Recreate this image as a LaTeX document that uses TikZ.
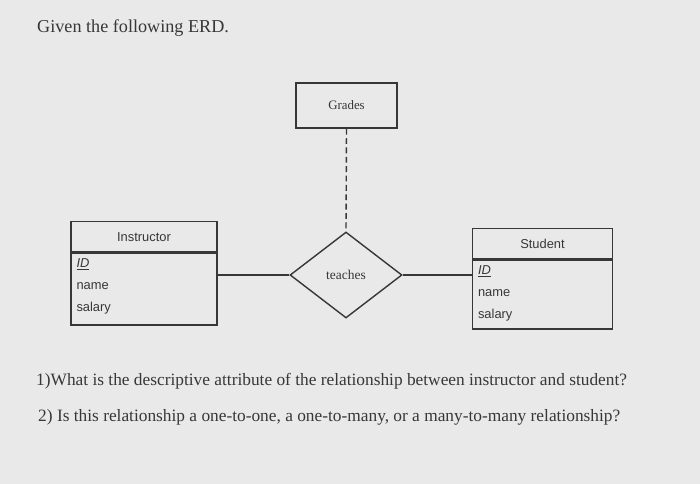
\documentclass[tikz,border=0pt]{standalone}
\usepackage{fontspec}
\setmainfont{Liberation Serif}
\setsansfont{Liberation Sans}
\usetikzlibrary{shapes.geometric}
\definecolor{paper}{RGB}{233,233,233}
\definecolor{ink}{RGB}{55,55,55}
\tikzset{
	box/.style={draw=ink, line width=1.2pt, inner sep=0pt},
	attr/.style={anchor=west, inner sep=0pt, text=ink, font=\sffamily\fontsize{11}{13}\selectfont},
	qline/.style={anchor=base west, inner sep=0pt, text=ink, font=\fontsize{14.8}{17}\selectfont}
}
\begin{document}
\begin{tikzpicture}[x=0.03cm, y=-0.03cm]
	\fill[paper] (0, 0) rectangle (700, 484);
	\node[qline, font=\fontsize{15.5}{18}\selectfont] (title) at (37, 33) {Given the following ERD.};
	% attribute on the relationship
	\node[box, minimum width=3.03cm, minimum height=1.35cm, font=\fontsize{11}{13}\selectfont, text=ink] (grades) at (346.5, 105.5) {Grades};
	\node[box, diamond, minimum width=3.36cm, minimum height=2.58cm, font=\fontsize{11.5}{13}\selectfont, text=ink] (teaches) at (346, 275) {teaches};
	\draw[ink, line width=1.2pt, dash pattern=on 5pt off 3pt] (grades.south) -- (teaches.north);
	% the two entities
	\foreach \e/\t/\x/\y/\w/\h in {instr/Instructor/144/221/4.38cm/2.16cm, stud/Student/542.5/228/4.2cm/2.07cm}{
		\node[box, minimum width=\w, minimum height=0.9cm, attr, anchor=north] (\e-head) at (\x, \y) {\t};
		\node[box, minimum width=\w, minimum height=\h, anchor=north] (\e-body) at (\e-head.south) {};
		\node[attr] (\e-id) at ([xshift=0.18cm, yshift=-0.35cm]\e-body.north west) {\underline{\textit{ID}}};
		\node[attr] (\e-name) at ([xshift=0.18cm, yshift=-1.0cm]\e-body.north west) {name};
		\node[attr] (\e-salary) at ([xshift=0.18cm, yshift=-1.66cm]\e-body.north west) {salary};
	}
	\draw[ink, line width=1.2pt] (instr-body.east |- teaches.west) -- (teaches.west);
	\draw[ink, line width=1.2pt] (teaches.east) -- (stud-body.west |- teaches.east);
	% questions
	\node[qline] (q1) at (36, 385) {1)What is the descriptive attribute of the relationship between instructor and student?};
	\node[qline] (q2) at (38, 421) {2) Is this relationship a one-to-one, a one-to-many, or a many-to-many relationship?};
\end{tikzpicture}
\end{document}
